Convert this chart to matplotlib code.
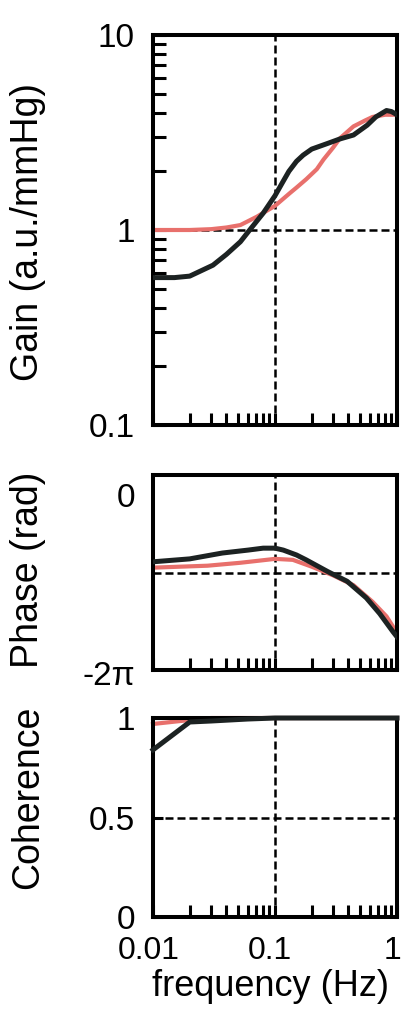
import matplotlib.pyplot as plt
import matplotlib.ticker as mticker
import matplotlib.transforms as mtransforms
import numpy as np

# Data
gain_f_black = [0.01, 0.015, 0.02, 0.031, 0.04, 0.052, 0.062, 0.08, 0.1, 0.115, 0.13, 0.15,
                0.17, 0.2, 0.27, 0.34, 0.44, 0.57, 0.67, 0.82, 0.9, 1.0]
gain_black = [0.57, 0.57, 0.58, 0.66, 0.75, 0.87, 1.0, 1.22, 1.5, 1.75, 2.0, 2.25,
              2.42, 2.6, 2.78, 2.93, 3.07, 3.45, 3.8, 4.1, 4.05, 3.9]
gain_f_red = [0.01, 0.02, 0.03, 0.04, 0.052, 0.071, 0.1, 0.133, 0.15, 0.18, 0.22, 0.25, 0.3,
              0.34, 0.44, 0.55, 0.63, 0.8, 1.0]
gain_red = [1.0, 1.0, 1.01, 1.03, 1.06, 1.17, 1.33, 1.55, 1.65, 1.82, 2.05, 2.3, 2.65,
            2.95, 3.4, 3.65, 3.8, 3.9, 3.9]

# phase in units of pi
phase_f_black = [0.01, 0.02, 0.037, 0.06, 0.08, 0.1, 0.117, 0.15, 0.18, 0.27, 0.39, 0.56,
                 0.72, 0.93, 1.0]
phase_black = [-0.89, -0.86, -0.80, -0.77, -0.75, -0.75, -0.77, -0.82, -0.87, -0.99, -1.09,
               -1.26, -1.42, -1.61, -1.66]
phase_f_red = [0.01, 0.028, 0.052, 0.1, 0.14, 0.2, 0.3, 0.44, 0.63, 0.82, 1.0]
phase_red = [-0.95, -0.93, -0.90, -0.86, -0.87, -0.94, -1.03, -1.13, -1.30, -1.45, -1.62]

coh_f_black = [0.01, 0.02, 0.03, 0.06, 0.1, 1.0]
coh_black = [0.84, 0.98, 0.985, 0.995, 1.0, 1.0]
coh_f_red = [0.01, 0.02, 0.03, 1.0]
coh_red = [0.97, 0.99, 1.0, 1.0]

RED = '#e8706c'
BLK = '#1c2222'
plt.rcParams['font.family'] = ['Liberation Sans', 'DejaVu Sans']

fig = plt.figure(figsize=(4.02, 10.30), dpi=100)
ax1 = fig.add_axes([0.3806, 0.5874, 0.607, 0.3786])
ax2 = fig.add_axes([0.3806, 0.3495, 0.607, 0.1893])
ax3 = fig.add_axes([0.3806, 0.1097, 0.607, 0.1932])

dash = (0, (3.2, 1.6))
for ax in (ax1, ax2, ax3):
    ax.set_xscale('log')
    ax.set_xlim(0.01, 1)
    ax.axvline(0.1, color='black', lw=1.8, ls=dash, zorder=1)
    for s in ax.spines.values():
        s.set_linewidth(2.9)
    ax.xaxis.set_major_locator(mticker.FixedLocator([0.01, 0.1, 1]))
    ax.xaxis.set_minor_locator(mticker.LogLocator(base=10, subs=np.arange(2, 10)))
    ax.tick_params(axis='x', which='both', direction='in', length=9, width=2.2,
                   top=False, labelsize=23, pad=14)
    ax.tick_params(axis='y', which='both', direction='in', right=False, labelsize=24, pad=13)
    if ax is not ax3:
        ax.tick_params(axis='x', labelbottom=False)

# Gain
ax1.set_yscale('log')
ax1.set_ylim(0.1, 10)
ax1.axhline(1, color='black', lw=1.8, ls=dash, zorder=1)
ax1.plot(gain_f_red, gain_red, color=RED, lw=3.0, zorder=2)
ax1.plot(gain_f_black, gain_black, color=BLK, lw=3.6, zorder=3)
ax1.yaxis.set_major_locator(mticker.FixedLocator([0.1, 1, 10]))
ax1.yaxis.set_major_formatter(mticker.FixedFormatter(['0.1', '1', '10']))
ax1.yaxis.set_minor_locator(mticker.LogLocator(base=10, subs=np.arange(2, 10)))
ax1.yaxis.set_minor_formatter(mticker.NullFormatter())
ax1.tick_params(axis='y', which='both', length=9, width=2.2)

# Phase
ax2.set_ylim(-2 * np.pi, 0)
ax2.axhline(-np.pi, color='black', lw=1.8, ls=dash, zorder=1)
ax2.plot(phase_f_red, np.array(phase_red) * np.pi, color=RED, lw=3.0, zorder=2)
ax2.plot(phase_f_black, np.array(phase_black) * np.pi, color=BLK, lw=3.6, zorder=3)
ax2.set_yticks([0, -2 * np.pi])
ax2.set_yticklabels(['0', '-2π'])
ax2.tick_params(axis='y', length=0)
offs = [20, 3]
for lab, o in zip(ax2.get_yticklabels(), offs):
    lab.set_transform(lab.get_transform() + mtransforms.ScaledTranslation(0, -o / 100, fig.dpi_scale_trans))

# Coherence
ax3.set_ylim(0, 1)
ax3.axhline(0.5, color='black', lw=1.8, ls=dash, zorder=1)
ax3.plot(coh_f_red, coh_red, color=RED, lw=3.0, zorder=2, clip_on=False)
ax3.plot(coh_f_black, coh_black, color=BLK, lw=3.6, zorder=3, clip_on=False)
ax3.set_yticks([0, 0.5, 1])
ax3.set_yticklabels(['0', '0.5', '1'])
ax3.tick_params(axis='y', length=7, width=2.2)
ax3.set_xticklabels(['0.01', '0.1', '1'])
# nudge the last x label inside the figure
xl = ax3.get_xticklabels()
xl[-1].set_transform(xl[-1].get_transform() + mtransforms.ScaledTranslation(-5 / 100, 0, fig.dpi_scale_trans))
xl[1].set_transform(xl[1].get_transform() + mtransforms.ScaledTranslation(-5 / 100, 0, fig.dpi_scale_trans))
xl[0].set_transform(xl[0].get_transform() + mtransforms.ScaledTranslation(-4 / 100, 0, fig.dpi_scale_trans))

# Axis labels
lab_font = ['Liberation Sans', 'DejaVu Sans']
fig.text(28 / 402, 1 - 232 / 1030, 'Gain (a.u./mmHg)', rotation=90, ha='center', va='center',
         fontsize=27, family=lab_font)
fig.text(28 / 402, 1 - 570 / 1030, 'Phase (rad)', rotation=90, ha='center', va='center',
         fontsize=27, family=lab_font)
fig.text(28 / 402, 1 - 797 / 1030, 'Coherence', rotation=90, ha='center', va='center',
         fontsize=27, family=lab_font)
fig.text(271 / 402, 1 - 986 / 1030, 'frequency (Hz)', ha='center', va='center', fontsize=26)

fig.savefig('out.png', dpi=100)
